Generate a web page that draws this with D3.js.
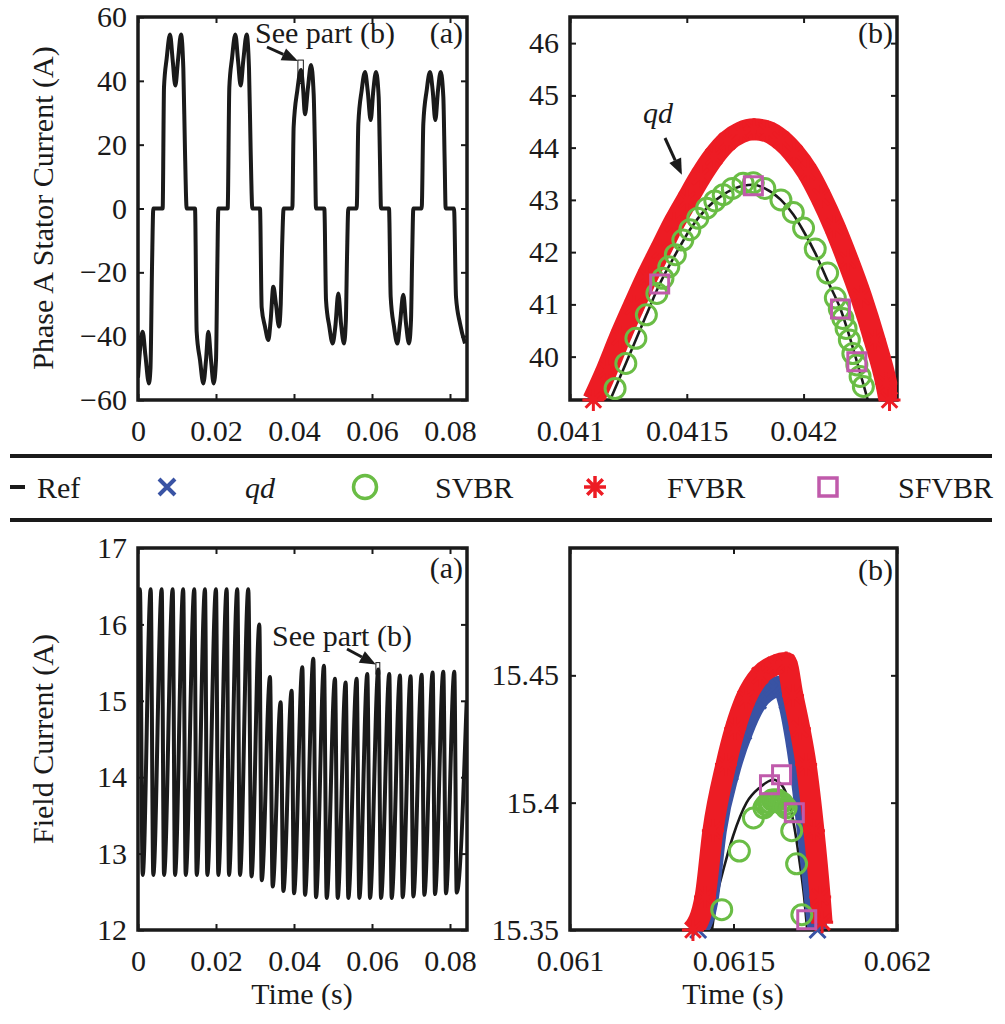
<!DOCTYPE html>
<html>
<head>
<meta charset="utf-8">
<script src="https://cdn.jsdelivr.net/npm/d3@7"></script>
<style>
  body { margin: 0; background: #fff; }
</style>
</head>
<body>
<svg id="fig" width="1005" height="1024"></svg>
<script>
// time is kept in ms, axes show seconds
const statorRef = [
  [0,-53],[1.2,-38.6],[1.9,-46],[2.8,-54.8],[3.2,-50],[3.6,-18],[3.93,0],
  [6.32,0],[6.67,38],[7.35,47],[8.21,54.5],[8.89,46.5],[9.57,38.5],[10.26,46.5],[11.03,54.5],[11.62,44],[12.05,18],[12.48,0],
  [14.62,0],[15.04,-38.6],[15.9,-47.5],[16.75,-54.8],[17.44,-47.5],[18.03,-38.6],[18.72,-47.5],[19.4,-54.8],[20.0,-47.5],[20.34,-18],[20.6,0],
  [22.99,0],[23.42,38],[24.1,47],[24.96,54.5],[25.64,46.5],[26.32,38.5],[27.01,46.5],[27.86,54.5],[28.46,44],[28.89,18],[29.32,0],
  [31.28,0],[31.71,-31],[32.56,-37],[33.42,-41.2],[34.02,-35],[34.7,-24.5],[35.38,-30],[36.15,-37],[36.6,-30],[36.95,-12],[37.35,0],
  [39.57,0],[39.91,25.6],[40.85,37],[41.79,43.4],[42.31,38],[42.82,29.5],[43.59,38],[44.36,45],[45.04,36],[45.38,18],[45.64,0],
  [47.78,0],[48.21,-28.7],[49.06,-37],[49.91,-42.3],[50.6,-37],[51.37,-26.6],[52.05,-36],[52.82,-42.3],[53.3,-35],[53.6,-15],[53.93,0],
  [56.07,0],[56.5,26.6],[57.35,37],[58.21,42.8],[58.89,37],[59.66,27.7],[60.34,37],[61.03,42.8],[61.71,35],[62.05,15],[62.31,0],
  [64.36,0],[64.79,-27.7],[65.64,-37],[66.5,-42.3],[67.18,-36],[68.03,-27],[68.72,-36],[69.49,-42.3],[70.0,-35],[70.3,-15],[70.6,0],
  [72.74,0],[73.16,26.6],[74.02,37],[74.87,42.8],[75.56,37],[76.24,27.7],[76.92,37],[77.61,42.8],[78.29,35],[78.63,15],[78.89,0],
  [81.03,0],[81.54,-27.7],[82.56,-36],[83.85,-42.3]
];

const fieldRef = [
  [0,16.2],[0.5,16.46],[1.2,12.72],[3.26,16.46],[3.92,12.72],[6.08,16.46],[6.67,12.72],[8.9,16.46],[9.49,12.72],
  [11.59,16.46],[12.23,12.72],[14.44,16.46],[15.05,12.72],[17.18,16.46],[17.77,12.72],[20.0,16.46],[20.59,12.72],
  [22.74,16.46],[23.33,12.72],[25.46,16.46],[26.15,12.72],[28.28,16.46],[29.1,12.7],[31.11,16.0],[31.72,12.65],
  [33.85,15.31],[34.53,12.57],[36.58,14.98],[37.27,12.51],[39.4,15.13],[40.0,12.48],[42.14,15.44],[42.82,12.46],
  [44.96,15.55],[45.64,12.43],[47.69,15.46],[48.38,12.42],[50.51,15.29],[51.2,12.42],[53.25,15.24],[53.93,12.42],
  [56.07,15.29],[56.75,12.42],[58.8,15.35],[59.49,12.42],[61.62,15.41],[62.31,12.42],[64.44,15.35],[65.04,12.42],
  [67.18,15.33],[67.86,12.43],[69.91,15.32],[70.6,12.44],[72.74,15.34],[73.42,12.46],[75.56,15.37],[76.15,12.47],
  [78.29,15.38],[78.97,12.48],[81.11,15.38],[81.72,12.49],[84.28,15.0]
];

// zoom (b) of stator current
const refTop = [[41.172,39.17],[41.239,39.87],[41.327,40.8],[41.384,41.39],[41.451,41.95],[41.513,42.43],[41.585,42.84],
  [41.656,43.1],[41.741,43.27],[41.785,43.29],[41.834,43.22],[41.903,43.0],[41.956,42.72],[42.0,42.4],[42.05,41.98],
  [42.103,41.45],[42.158,40.91],[42.228,39.91],[42.275,39.17]];
const svbrTop = [[41.193,39.39],[41.239,39.87],[41.282,40.35],[41.327,40.8],[41.372,41.21],[41.398,41.5],[41.423,41.72],
  [41.451,41.95],[41.483,42.23],[41.513,42.43],[41.547,42.65],[41.585,42.84],[41.62,42.98],[41.656,43.1],[41.695,43.22],
  [41.741,43.32],[41.785,43.33],[41.834,43.22],[41.903,43.0],[41.956,42.76],[42.0,42.46],[42.05,42.06],[42.103,41.6],
  [42.136,41.12],[42.153,40.91],[42.168,40.73],[42.182,40.54],[42.196,40.32],[42.211,40.06],[42.228,39.84],[42.242,39.62],[42.256,39.43]];
const fvbrTop = [[41.1,39.17],[41.158,39.75],[41.215,40.38],[41.272,40.96],[41.33,41.53],[41.387,42.04],[41.444,42.55],
  [41.501,43.0],[41.559,43.45],[41.616,43.83],[41.673,44.12],[41.731,44.29],[41.788,44.35],[41.845,44.31],[41.903,44.15],
  [41.96,43.89],[42.017,43.54],[42.074,43.06],[42.132,42.49],[42.189,41.85],[42.246,41.15],[42.304,40.32],[42.354,39.49],[42.368,39.17]];
const qdTop = fvbrTop; // hidden under the FVBR band
const sfvbrTop = [[41.384,41.39],[41.785,43.27],[42.158,40.91],[42.228,39.9]];

// zoom (b) of field current
const refBot = [[61.433,15.349],[61.449,15.363],[61.474,15.376],[61.499,15.387],[61.54,15.4],[61.581,15.406],[61.622,15.409],
  [61.647,15.407],[61.668,15.401],[61.688,15.389],[61.703,15.376],[61.716,15.363],[61.726,15.349]];
const qdBot = [[61.392,15.35],[61.425,15.363],[61.449,15.389],[61.489,15.412],[61.53,15.428],[61.575,15.44],[61.622,15.445],
  [61.645,15.446],[61.665,15.44],[61.688,15.425],[61.707,15.408],[61.724,15.389],[61.74,15.37],[61.752,15.355],[61.757,15.35]];
const fvbrBot = [[61.376,15.35],[61.413,15.363],[61.437,15.389],[61.477,15.415],[61.505,15.429],[61.538,15.441],[61.581,15.45],
  [61.627,15.454],[61.661,15.455],[61.682,15.442],[61.703,15.429],[61.722,15.415],[61.746,15.389],[61.765,15.363],[61.771,15.353]];
const svbrBot = [[61.464,15.358],[61.518,15.381],[61.561,15.394],
  [61.593,15.398],[61.599,15.399],[61.606,15.4],[61.612,15.4],[61.618,15.401],[61.624,15.401],
  [61.63,15.401],[61.636,15.401],[61.642,15.4],[61.648,15.4],[61.654,15.399],[61.661,15.398],
  [61.678,15.389],[61.693,15.376],[61.709,15.356]];
const sfvbrBot = [[61.61,15.407],[61.647,15.411],[61.686,15.396],[61.724,15.354]];

const legendNames = ["Ref", "qd", "SVBR", "FVBR", "SFVBR"];

const serif = "'Liberation Serif','Times New Roman',serif";
const ink = "#1a1a1a";
const blue = "#3953a4", green = "#6abd45", red = "#ed1c24", pink = "#c05aab";
const svg = d3.select("#fig");

const msFmt = d => String(+(d / 1000).toPrecision(6));

function makePanel(id, box, xDom, yDom, xTicks, yTicks, yFmt) {
  const x = d3.scaleLinear().domain(xDom).range([box.x0, box.x1]);
  const y = d3.scaleLinear().domain(yDom).range([box.y1, box.y0]);
  const g = svg.append("g");
  g.append("clipPath").attr("id", id).append("rect")
    .attr("x", box.x0).attr("y", box.y0)
    .attr("width", box.x1 - box.x0).attr("height", box.y1 - box.y0);

  const style = sel => {
    sel.select(".domain").remove();
    sel.selectAll("line").attr("stroke", ink).attr("stroke-width", 2);
    sel.selectAll("text").attr("font-size", 30).attr("font-family", serif).attr("fill", ink);
  };
  g.append("g").attr("transform", `translate(0,${box.y1})`)
    .call(d3.axisBottom(x).tickValues(xTicks).tickFormat(msFmt).tickSizeInner(-6).tickSizeOuter(0).tickPadding(20)).call(style);
  g.append("g").attr("transform", `translate(0,${box.y0})`)
    .call(d3.axisTop(x).tickValues(xTicks).tickFormat("").tickSizeInner(-6).tickSizeOuter(0)).call(style);
  g.append("g").attr("transform", `translate(${box.x0},0)`)
    .call(d3.axisLeft(y).tickValues(yTicks).tickFormat(yFmt).tickSizeInner(-6).tickSizeOuter(0).tickPadding(11)).call(style);
  g.append("g").attr("transform", `translate(${box.x1},0)`)
    .call(d3.axisRight(y).tickValues(yTicks).tickFormat("").tickSizeInner(-6).tickSizeOuter(0)).call(style);

  g.append("rect")
    .attr("x", box.x0).attr("y", box.y0)
    .attr("width", box.x1 - box.x0).attr("height", box.y1 - box.y0)
    .attr("fill", "none").attr("stroke", ink).attr("stroke-width", 3.5);

  const plot = g.append("g");
  return { x, y, plot, clip: `url(#${id})` };
}

function drawLine(p, data, width, color) {
  const line = d3.line().x(d => p.x(d[0])).y(d => p.y(d[1])).curve(d3.curveMonotoneX);
  p.plot.append("path").datum(data)
    .attr("clip-path", p.clip)
    .attr("d", line)
    .attr("fill", "none").attr("stroke", color).attr("stroke-width", width)
    .attr("stroke-linejoin", "round");
}

const starPath = s => { const a = s * 0.707;
  return `M0,${-s}V${s}M${-s},0H${s}M${-a},${-a}L${a},${a}M${-a},${a}L${a},${-a}`; };
const crossPath = s => `M${-s},${-s}L${s},${s}M${-s},${s}L${s},${-s}`;

function drawMarks(p, data, kind, color) {
  const sel = p.plot.append("g").selectAll("path").data(data).join("path")
    .attr("transform", d => `translate(${p.x(d[0])},${p.y(d[1])})`)
    .attr("fill", "none").attr("stroke", color);
  if (kind === "circle") sel.attr("d", d3.arc()({ innerRadius: 0, outerRadius: 10, startAngle: 0, endAngle: 2 * Math.PI })).attr("stroke-width", 3);
  if (kind === "square") sel.attr("d", "M-9,-9H9V9H-9Z").attr("stroke-width", 3);
  if (kind === "star") sel.attr("d", starPath(11)).attr("stroke-width", 3);
  if (kind === "cross") sel.attr("d", crossPath(8)).attr("stroke-width", 3);
}

function arrow(x1, y1, x2, y2) {
  const ang = Math.atan2(y2 - y1, x2 - x1), L = 16, W = 6.5;
  const bx = x2 - L * Math.cos(ang), by = y2 - L * Math.sin(ang);
  svg.append("line").attr("x1", x1).attr("y1", y1).attr("x2", bx).attr("y2", by)
    .attr("stroke", ink).attr("stroke-width", 3);
  svg.append("path")
    .attr("d", `M${x2},${y2}L${bx + W * Math.sin(ang)},${by - W * Math.cos(ang)}L${bx - W * Math.sin(ang)},${by + W * Math.cos(ang)}Z`)
    .attr("fill", ink);
}

function label(x, y, txt, opts = {}) {
  return svg.append("text").attr("x", x).attr("y", y).text(txt)
    .attr("font-family", serif).attr("font-size", 30).attr("fill", ink)
    .attr("text-anchor", opts.anchor || "start")
    .attr("font-style", opts.italic ? "italic" : "normal");
}

// ---- panels ----
const leftX = { x0: 138, x1: 467 }, rightX = { x0: 570, x1: 897 };
const topY = { y0: 17, y1: 400 }, botY = { y0: 548, y1: 930 };

const pA = makePanel("clipA", { ...leftX, ...topY }, [0, 84.36], [-60, 60],
  [0, 20, 40, 60, 80], [-60, -40, -20, 0, 20, 40, 60], d3.format("d"));
drawLine(pA, statorRef, 4, ink);

const pB = makePanel("clipB", { ...rightX, ...topY }, [41, 42.4], [39.17, 46.5],
  [41, 41.5, 42], [40, 41, 42, 43, 44, 45, 46], d => String(d));
drawLine(pB, refTop, 2.6, ink);
drawLine(pB, qdTop, 20, blue);
drawLine(pB, fvbrTop, 22, red);
drawMarks(pB, fvbrTop, "star", red);
drawMarks(pB, svbrTop, "circle", green);
drawMarks(pB, sfvbrTop, "square", pink);

const pC = makePanel("clipC", { ...leftX, ...botY }, [0, 84.36], [12, 17],
  [0, 20, 40, 60, 80], [12, 13, 14, 15, 16, 17], d => String(d));
drawLine(pC, fieldRef, 4, ink);

const pD = makePanel("clipD", { ...rightX, ...botY }, [61, 62], [15.35, 15.5],
  [61, 61.5, 62], [15.35, 15.4, 15.45], d => String(d));
drawLine(pD, refBot, 2.6, ink);
drawLine(pD, qdBot, 20, blue);
drawMarks(pD, qdBot, "cross", blue);
drawLine(pD, fvbrBot, 21, red);
drawMarks(pD, fvbrBot, "star", red);
drawMarks(pD, svbrBot, "circle", green);
drawMarks(pD, sfvbrBot, "square", pink);

// ---- axis titles ----
svg.append("text").attr("transform", "translate(53,208) rotate(-90)")
  .attr("text-anchor", "middle").attr("font-family", serif).attr("font-size", 30).attr("fill", ink)
  .text("Phase A Stator Current (A)");
svg.append("text").attr("transform", "translate(53,739) rotate(-90)")
  .attr("text-anchor", "middle").attr("font-family", serif).attr("font-size", 30).attr("fill", ink)
  .text("Field Current (A)");
label(302, 1004, "Time (s)", { anchor: "middle" });
label(733, 1004, "Time (s)", { anchor: "middle" });

// ---- panel tags and notes ----
label(463, 43, "(a)", { anchor: "end" });
label(893, 43, "(b)", { anchor: "end" });
label(463, 578, "(a)", { anchor: "end" });
label(893, 580, "(b)", { anchor: "end" });

label(255, 43, "See part (b)");
svg.append("rect")
  .attr("x", pA.x(41)).attr("y", pA.y(46.5))
  .attr("width", pA.x(42.4) - pA.x(41)).attr("height", pA.y(39.17) - pA.y(46.5))
  .attr("fill", "none").attr("stroke", ink).attr("stroke-width", 1);
arrow(267, 47, pA.x(41), pA.y(46.5) + 1);

label(272, 646, "See part (b)");
svg.append("rect")
  .attr("x", pC.x(61)).attr("y", pC.y(15.5))
  .attr("width", pC.x(62) - pC.x(61)).attr("height", pC.y(15.35) - pC.y(15.5))
  .attr("fill", "none").attr("stroke", ink).attr("stroke-width", 1);
arrow(347, 649, pC.x(61), pC.y(15.5) + 2);

label(643, 123, "qd", { italic: true });
arrow(665, 138, pB.x(41.479), pB.y(43.48));

// ---- legend band ----
[456, 520].forEach(yy => svg.append("line").attr("x1", 10).attr("x2", 992)
  .attr("y1", yy).attr("y2", yy).attr("stroke", ink).attr("stroke-width", 4));

const legendMarkX = [17, 167, 365, 595, 828];
const legendTextX = [37, 245, 435, 667, 898];
const lg = svg.append("g");
lg.append("line").attr("x1", legendMarkX[0] - 7).attr("x2", legendMarkX[0] + 8)
  .attr("y1", 487).attr("y2", 487).attr("stroke", ink).attr("stroke-width", 4);
lg.append("path").attr("transform", `translate(${legendMarkX[1]},487)`).attr("d", crossPath(8))
  .attr("fill", "none").attr("stroke", blue).attr("stroke-width", 4);
lg.append("circle").attr("cx", legendMarkX[2]).attr("cy", 487).attr("r", 11.5)
  .attr("fill", "none").attr("stroke", green).attr("stroke-width", 3.5);
lg.append("path").attr("transform", `translate(${legendMarkX[3]},487)`).attr("d", starPath(11))
  .attr("fill", "none").attr("stroke", red).attr("stroke-width", 3.5);
lg.append("rect").attr("x", legendMarkX[4] - 9).attr("y", 478).attr("width", 18).attr("height", 18)
  .attr("fill", "none").attr("stroke", pink).attr("stroke-width", 3.5);
legendNames.forEach((n, i) => label(legendTextX[i], 498, n, { italic: n === "qd" }));
</script>
</body>
</html>
